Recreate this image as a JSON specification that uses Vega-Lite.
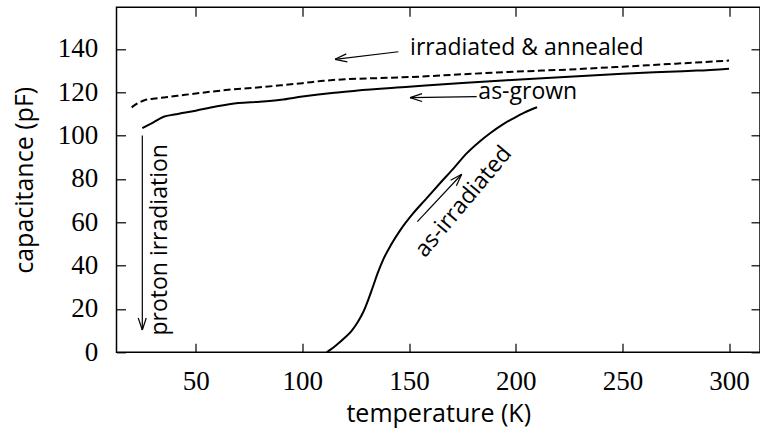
{
  "$schema": "https://vega.github.io/schema/vega-lite/v6.json",
  "autosize": "none",
  "width": 643.5,
  "height": 345,
  "padding": {"left": 116.5, "top": 7.3, "right": 0, "bottom": 77.7},
  "background": "white",
  "config": {
    "view": {"stroke": "black", "strokeWidth": 1.5},
    "axis": {
      "domain": false,
      "grid": false,
      "tickColor": "black",
      "tickWidth": 1.2,
      "tickSize": -9,
      "labelFont": "Liberation Serif",
      "labelFontSize": 27,
      "labelColor": "black",
      "titleFont": "Open Sans",
      "titleFontSize": 25,
      "titleFontWeight": "normal",
      "titleColor": "black"
    }
  },
  "datasets": {
    "curves": [
      {"T": 20, "C": 113, "series": "annealed"},
      {"T": 23, "C": 115, "series": "annealed"},
      {"T": 26, "C": 116.3, "series": "annealed"},
      {"T": 30, "C": 117, "series": "annealed"},
      {"T": 36, "C": 117.7, "series": "annealed"},
      {"T": 45, "C": 118.8, "series": "annealed"},
      {"T": 55, "C": 120, "series": "annealed"},
      {"T": 67, "C": 121.3, "series": "annealed"},
      {"T": 80, "C": 122.3, "series": "annealed"},
      {"T": 90, "C": 123.2, "series": "annealed"},
      {"T": 100, "C": 124.2, "series": "annealed"},
      {"T": 110, "C": 125.3, "series": "annealed"},
      {"T": 120, "C": 126, "series": "annealed"},
      {"T": 135, "C": 126.5, "series": "annealed"},
      {"T": 150, "C": 127, "series": "annealed"},
      {"T": 175, "C": 128.3, "series": "annealed"},
      {"T": 200, "C": 129.5, "series": "annealed"},
      {"T": 225, "C": 130.5, "series": "annealed"},
      {"T": 250, "C": 131.8, "series": "annealed"},
      {"T": 275, "C": 133.2, "series": "annealed"},
      {"T": 300, "C": 134.6, "series": "annealed"},
      {"T": 25, "C": 103.4, "series": "as-grown"},
      {"T": 30, "C": 106, "series": "as-grown"},
      {"T": 35, "C": 108.7, "series": "as-grown"},
      {"T": 40, "C": 109.7, "series": "as-grown"},
      {"T": 50, "C": 111.5, "series": "as-grown"},
      {"T": 60, "C": 113.5, "series": "as-grown"},
      {"T": 70, "C": 115, "series": "as-grown"},
      {"T": 80, "C": 115.6, "series": "as-grown"},
      {"T": 90, "C": 116.5, "series": "as-grown"},
      {"T": 100, "C": 118, "series": "as-grown"},
      {"T": 115, "C": 119.8, "series": "as-grown"},
      {"T": 125, "C": 120.7, "series": "as-grown"},
      {"T": 150, "C": 122.5, "series": "as-grown"},
      {"T": 175, "C": 124.3, "series": "as-grown"},
      {"T": 200, "C": 125.8, "series": "as-grown"},
      {"T": 225, "C": 127.2, "series": "as-grown"},
      {"T": 250, "C": 128.5, "series": "as-grown"},
      {"T": 265, "C": 129.2, "series": "as-grown"},
      {"T": 275, "C": 129.6, "series": "as-grown"},
      {"T": 285, "C": 130, "series": "as-grown"},
      {"T": 300, "C": 130.9, "series": "as-grown"},
      {"T": 111.4, "C": 0, "series": "as-irradiated"},
      {"T": 116, "C": 3.4, "series": "as-irradiated"},
      {"T": 120, "C": 6.8, "series": "as-irradiated"},
      {"T": 123, "C": 9.8, "series": "as-irradiated"},
      {"T": 126, "C": 14, "series": "as-irradiated"},
      {"T": 128.5, "C": 18.5, "series": "as-irradiated"},
      {"T": 130.8, "C": 24, "series": "as-irradiated"},
      {"T": 133, "C": 30, "series": "as-irradiated"},
      {"T": 135.3, "C": 36.5, "series": "as-irradiated"},
      {"T": 138, "C": 43, "series": "as-irradiated"},
      {"T": 141.5, "C": 49.5, "series": "as-irradiated"},
      {"T": 146, "C": 56.5, "series": "as-irradiated"},
      {"T": 152, "C": 64.2, "series": "as-irradiated"},
      {"T": 158, "C": 70.8, "series": "as-irradiated"},
      {"T": 164.5, "C": 78, "series": "as-irradiated"},
      {"T": 171, "C": 85, "series": "as-irradiated"},
      {"T": 177, "C": 91.8, "series": "as-irradiated"},
      {"T": 183, "C": 97.2, "series": "as-irradiated"},
      {"T": 188, "C": 101.1, "series": "as-irradiated"},
      {"T": 194, "C": 105.2, "series": "as-irradiated"},
      {"T": 199, "C": 108, "series": "as-irradiated"},
      {"T": 204, "C": 110.6, "series": "as-irradiated"},
      {"T": 210, "C": 113.1, "series": "as-irradiated"}
    ],
    "arrows": [
      {"T": 145.0, "C": 138.7, "T2": 115.3, "C2": 135.2},
      {"T": 121.1, "C": 134.0, "T2": 115.3, "C2": 135.2},
      {"T": 120.6, "C": 137.7, "T2": 115.3, "C2": 135.2},
      {"T": 181.7, "C": 118.0, "T2": 150.5, "C2": 117.5},
      {"T": 156.1, "C": 115.75, "T2": 150.5, "C2": 117.5},
      {"T": 156.1, "C": 119.35, "T2": 150.5, "C2": 117.5},
      {"T": 153.9, "C": 60.3, "T2": 174.7, "C2": 82.15},
      {"T": 172.2, "C": 76.85, "T2": 174.7, "C2": 82.15},
      {"T": 169.5, "C": 79.4, "T2": 174.7, "C2": 82.15},
      {"T": 25.0, "C": 100, "T2": 25.0, "C2": 10.3},
      {"T": 23.1, "C": 15.8, "T2": 25.0, "C2": 10.3},
      {"T": 26.85, "C": 15.8, "T2": 25.0, "C2": 10.3}
    ]
  },
  "resolve": {"axis": {"x": "independent", "y": "independent"}},
  "layer": [
    {
      "data": {"name": "curves"},
      "transform": [{"filter": "datum.series !== 'annealed'"}],
      "mark": {"type": "line", "color": "black", "strokeWidth": 2, "interpolate": "monotone"},
      "encoding": {
        "x": {"field": "T", "type": "quantitative",
              "scale": {"domain": [12.9, 314.5], "nice": false, "zero": false},
              "axis": {"orient": "bottom", "values": [50, 100, 150, 200, 250, 300], "labelPadding": 25,
                       "title": "temperature (K)", "titleY": 69.6, "titleBaseline": "alphabetic"}},
        "y": {"field": "C", "type": "quantitative",
              "scale": {"domain": [0, 159.2], "nice": false, "zero": false},
              "axis": {"orient": "left", "values": [0, 20, 40, 60, 80, 100, 120, 140], "labelPadding": 27.8,
                       "title": "capacitance (pF)", "titleX": -84.5, "titleBaseline": "alphabetic", "titleAngle": -90}},
        "detail": {"field": "series"}
      }
    },
    {
      "data": {"name": "curves"},
      "transform": [{"filter": "datum.series === 'annealed'"}],
      "mark": {"type": "line", "color": "black", "strokeWidth": 2, "strokeDash": [7, 3.5], "interpolate": "monotone"},
      "encoding": {
        "x": {"field": "T", "type": "quantitative",
              "scale": {"domain": [12.9, 314.5], "nice": false, "zero": false},
              "axis": {"orient": "top", "values": [50, 100, 150, 200, 250, 300], "labels": false, "title": null}},
        "y": {"field": "C", "type": "quantitative",
              "scale": {"domain": [0, 159.2], "nice": false, "zero": false},
              "axis": {"orient": "right", "values": [0, 20, 40, 60, 80, 100, 120, 140], "labels": false, "title": null}}
      }
    },
    {
      "data": {"name": "arrows"},
      "mark": {"type": "rule", "color": "black", "strokeWidth": 1.2},
      "encoding": {
        "x": {"field": "T", "type": "quantitative", "scale": {"domain": [12.9, 314.5], "nice": false, "zero": false}, "axis": null},
        "y": {"field": "C", "type": "quantitative", "scale": {"domain": [0, 159.2], "nice": false, "zero": false}, "axis": null},
        "x2": {"field": "T2"},
        "y2": {"field": "C2"}
      }
    },
    {
      "data": {"values": [
        {"T": 150.5, "C": 137.2, "label": "irradiated & annealed"},
        {"T": 182.5, "C": 116.9, "label": "as-grown"}
      ]},
      "mark": {"type": "text", "align": "left", "baseline": "alphabetic", "font": "Open Sans", "fontSize": 23, "color": "black"},
      "encoding": {
        "x": {"field": "T", "type": "quantitative", "scale": {"domain": [12.9, 314.5], "nice": false, "zero": false}, "axis": null},
        "y": {"field": "C", "type": "quantitative", "scale": {"domain": [0, 159.2], "nice": false, "zero": false}, "axis": null},
        "text": {"field": "label"}
      }
    },
    {
      "data": {"values": [
        {"T": 175.5, "C": 69.5, "label": "as-irradiated"}
      ]},
      "mark": {"type": "text", "align": "center", "baseline": "middle", "angle": -50, "font": "Open Sans", "fontSize": 23, "color": "black"},
      "encoding": {
        "x": {"field": "T", "type": "quantitative", "scale": {"domain": [12.9, 314.5], "nice": false, "zero": false}, "axis": null},
        "y": {"field": "C", "type": "quantitative", "scale": {"domain": [0, 159.2], "nice": false, "zero": false}, "axis": null},
        "text": {"field": "label"}
      }
    },
    {
      "data": {"values": [
        {"T": 36.5, "C": 51.9, "label": "proton irradiation"}
      ]},
      "mark": {"type": "text", "align": "center", "baseline": "alphabetic", "angle": -90, "font": "Open Sans", "fontSize": 23, "color": "black"},
      "encoding": {
        "x": {"field": "T", "type": "quantitative", "scale": {"domain": [12.9, 314.5], "nice": false, "zero": false}, "axis": null},
        "y": {"field": "C", "type": "quantitative", "scale": {"domain": [0, 159.2], "nice": false, "zero": false}, "axis": null},
        "text": {"field": "label"}
      }
    }
  ]
}
